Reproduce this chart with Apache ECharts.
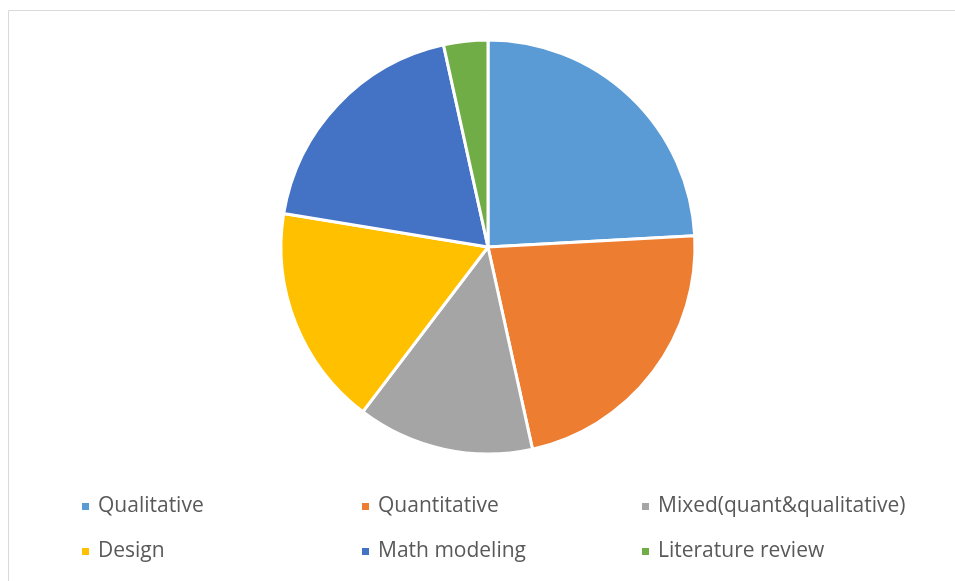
<!DOCTYPE html>
<html>
<head>
<meta charset="utf-8">
<script src="https://cdn.jsdelivr.net/npm/echarts@6/dist/echarts.min.js"></script>
<style>
  html, body { margin: 0; padding: 0; background: #fff; }
  #chart { width: 955px; height: 581px; }
</style>
</head>
<body>
<div id="chart"></div>
<script>
// Research method categories and study counts
const categories = ['Qualitative', 'Quantitative', 'Mixed(quant&qualitative)', 'Design', 'Math modeling', 'Literature review'];
const counts = [14, 13, 8, 10, 11, 2];
const colors = ['#5B9BD5', '#ED7D31', '#A5A5A5', '#FFC000', '#4472C4', '#70AD47'];

// Legend grid positions (three columns, two rows)
const legendCols = [80, 360, 640];
const legendRows = [496, 541];

const legends = categories.map((name, i) => ({
  data: [name],
  left: legendCols[i % 3],
  top: legendRows[Math.floor(i / 3)],
  padding: 0,
  itemWidth: 9,
  itemHeight: 9,
  icon: 'rect',
  textStyle: {
    fontFamily: 'Open Sans, Liberation Sans, sans-serif',
    fontSize: 21,
    color: '#595959',
    padding: [0, 0, 0, 3]
  }
}));

const chart = echarts.init(document.getElementById('chart'), null, { renderer: 'canvas' });
chart.setOption({
  animation: false,
  color: colors,
  graphic: [{
    type: 'rect',
    shape: { x: 8.5, y: 10.5, width: 1000, height: 700 },
    style: { fill: 'none', stroke: '#D9D9D9', lineWidth: 1 },
    silent: true
  }],
  legend: legends,
  series: [{
    type: 'pie',
    center: [488, 247],
    radius: [0, 207],
    startAngle: 90,
    clockwise: true,
    label: { show: false },
    labelLine: { show: false },
    itemStyle: { borderColor: '#fff', borderWidth: 3 },
    emphasis: { disabled: true },
    data: categories.map((name, i) => ({ name, value: counts[i] }))
  }]
});
</script>
</body>
</html>
